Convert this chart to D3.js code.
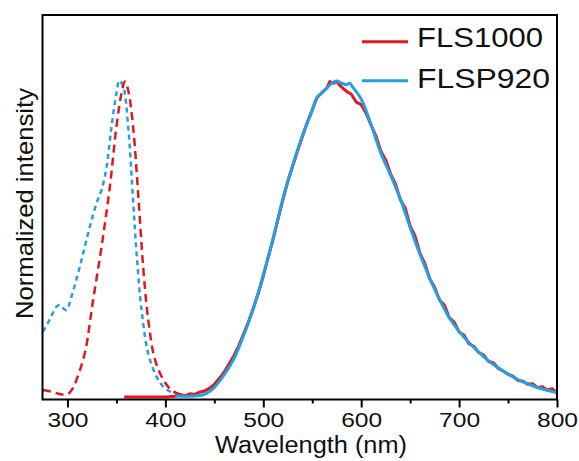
<!DOCTYPE html>
<html>
<head>
<meta charset="utf-8">
<script src="https://cdn.jsdelivr.net/npm/d3@7"></script>
<style>
  body { margin: 0; background: #fff; }
  text { font-family: "Liberation Sans", Arial, sans-serif; fill: #111; }
</style>
</head>
<body>
<svg id="chart" width="579" height="461"></svg>
<script>
"use strict";

const red = "#e3171e";
const blue = "#22a0e2";

const seriesNames = ["FLS1000", "FLSP920"];
const xTicks = [300, 400, 500, 600, 700, 800];
const xMinorTicks = [350, 450, 550, 650, 750];

// excitation (dashed)
const fls1000ExWl = [275, 282, 288.8, 295, 300.6, 305, 309.2, 317.7, 326.2, 334.8, 343.3, 350, 355.2, 358.6, 362, 367, 372.2, 377.3, 382.5, 389.4, 398, 405, 411.6, 420];
const fls1000Ex = [0.022, 0.018, 0.012, 0.008, 0.009, 0.025, 0.054, 0.138, 0.306, 0.474, 0.663, 0.853, 0.958, 0.995, 0.968, 0.853, 0.642, 0.411, 0.243, 0.117, 0.054, 0.025, 0.012, 0.004];

const flsp920ExWl = [275, 282, 288.8, 292, 295.5, 299, 304, 312.6, 322.8, 329.7, 335, 340, 345, 350, 353, 357, 362, 367, 370.6, 375.7, 382.5, 391, 398, 405, 415];
const flsp920Ex = [0.206, 0.245, 0.285, 0.290, 0.280, 0.274, 0.316, 0.411, 0.537, 0.611, 0.655, 0.726, 0.853, 0.958, 0.998, 0.979, 0.853, 0.621, 0.453, 0.274, 0.137, 0.064, 0.032, 0.017, 0.006];

// emission (solid)
const fls1000EmWl = [358, 380, 400, 410, 415, 420, 425, 430, 435, 440, 445, 450, 455, 460, 465, 470, 475, 480, 485, 490, 495, 500, 505, 510, 515, 520, 525, 530, 535, 540, 545, 550, 555, 560, 565, 568, 572, 575, 578, 582, 586, 590, 595, 600, 605, 610, 615, 620, 625, 630, 635, 640, 645, 650, 655, 660, 665, 670, 675, 680, 685, 690, 695, 700, 705, 710, 715, 720, 725, 730, 735, 740, 745, 750, 755, 760, 765, 770, 775, 780, 785, 790, 795, 800];
const fls1000Em = [0, 0, 0, 0.002, 0.008, 0.004, 0.010, 0.008, 0.015, 0.019, 0.027, 0.040, 0.058, 0.078, 0.104, 0.130, 0.162, 0.200, 0.238, 0.282, 0.328, 0.381, 0.440, 0.497, 0.560, 0.622, 0.680, 0.728, 0.776, 0.822, 0.866, 0.905, 0.945, 0.960, 0.975, 0.995, 0.990, 0.996, 0.984, 0.972, 0.962, 0.955, 0.930, 0.922, 0.895, 0.858, 0.824, 0.776, 0.748, 0.704, 0.672, 0.622, 0.596, 0.540, 0.508, 0.454, 0.421, 0.372, 0.346, 0.306, 0.290, 0.250, 0.236, 0.205, 0.195, 0.168, 0.160, 0.140, 0.133, 0.112, 0.108, 0.090, 0.082, 0.072, 0.066, 0.052, 0.050, 0.040, 0.042, 0.030, 0.032, 0.022, 0.026, 0.012];

const flsp920EmWl = [410, 420, 430, 440, 450, 460, 470, 480, 490, 500, 510, 520, 530, 540, 550, 555, 560, 565, 570, 575, 580, 585, 588, 592, 600, 610, 620, 630, 640, 650, 660, 670, 680, 690, 700, 710, 720, 730, 740, 750, 760, 770, 780, 790, 800];
const flsp920Em = [0.003, 0.002, 0.003, 0.008, 0.030, 0.070, 0.120, 0.195, 0.280, 0.385, 0.500, 0.625, 0.730, 0.825, 0.905, 0.945, 0.960, 0.975, 0.990, 0.997, 0.990, 0.985, 0.990, 0.975, 0.940, 0.860, 0.770, 0.700, 0.625, 0.535, 0.450, 0.375, 0.308, 0.250, 0.207, 0.172, 0.142, 0.114, 0.092, 0.072, 0.055, 0.042, 0.030, 0.021, 0.014];

const svg = d3.select("#chart");
const plotLeft = 42.5, plotRight = 557, plotTop = 15, plotBottom = 399.5;

const x = d3.scaleLinear().domain([274.5, 800]).range([plotLeft, plotRight]);
const y = d3.scaleLinear().domain([-0.008, 1.205]).range([plotBottom, plotTop]);

const zip = (xs, ys) => xs.map((v, i) => [v, ys[i]]);

const line = d3.line()
    .x(d => x(d[0]))
    .y(d => y(d[1]));
const smooth = d3.line()
    .x(d => x(d[0]))
    .y(d => y(d[1]))
    .curve(d3.curveCatmullRom);

const plot = svg.append("g");

plot.append("path")
    .attr("d", smooth(zip(flsp920ExWl, flsp920Ex)))
    .attr("fill", "none").attr("stroke", blue)
    .attr("stroke-width", 2.5).attr("stroke-dasharray", "5,4");
plot.append("path")
    .attr("d", smooth(zip(fls1000ExWl, fls1000Ex)))
    .attr("fill", "none").attr("stroke", red)
    .attr("stroke-width", 2.5).attr("stroke-dasharray", "8,5");

plot.append("path")
    .attr("d", line(zip(fls1000EmWl, fls1000Em)))
    .attr("fill", "none").attr("stroke", red)
    .attr("stroke-width", 3).attr("stroke-linejoin", "round");
plot.append("path")
    .attr("d", smooth(zip(flsp920EmWl, flsp920Em)))
    .attr("fill", "none").attr("stroke", blue)
    .attr("stroke-width", 3).attr("stroke-linejoin", "round");

// frame
svg.append("rect")
    .attr("x", plotLeft).attr("y", plotTop)
    .attr("width", plotRight - plotLeft).attr("height", plotBottom - plotTop)
    .attr("fill", "none").attr("stroke", "#000").attr("stroke-width", 2);

// x axis
const xAxis = svg.append("g")
    .attr("transform", `translate(0,${plotBottom})`)
    .call(d3.axisBottom(x).tickValues(xTicks).tickSize(8).tickPadding(5));
xAxis.select(".domain").remove();
xAxis.selectAll(".tick line").attr("stroke", "#000").attr("stroke-width", 2);
xAxis.selectAll(".tick text")
    .style("font-size", "20px")
    .style("font-family", "Liberation Sans, Arial, sans-serif")
    .attr("fill", "#111")
    .attr("textLength", 41)
    .attr("lengthAdjust", "spacingAndGlyphs")
    .attr("x", -20.5)
    .attr("text-anchor", "start");

const xMinor = svg.append("g")
    .attr("transform", `translate(0,${plotBottom})`)
    .call(d3.axisBottom(x).tickValues(xMinorTicks).tickSize(4).tickFormat(""));
xMinor.select(".domain").remove();
xMinor.selectAll(".tick line").attr("stroke", "#000").attr("stroke-width", 2);

svg.append("text")
    .attr("x", 215).attr("y", 453)
    .attr("textLength", 192)
    .attr("lengthAdjust", "spacingAndGlyphs")
    .style("font-size", "23px")
    .text("Wavelength (nm)");

svg.append("text")
    .attr("transform", "translate(33,319) rotate(-90)")
    .attr("textLength", 231)
    .attr("lengthAdjust", "spacingAndGlyphs")
    .style("font-size", "24px")
    .text("Normalized intensity");

// legend
const legendColors = [red, blue];
const legendLineY = [41.7, 80.7];
const legendTextY = [47, 88];
const legend = svg.append("g");
seriesNames.forEach((name, i) => {
  legend.append("line")
      .attr("x1", 362).attr("x2", 408)
      .attr("y1", legendLineY[i]).attr("y2", legendLineY[i])
      .attr("stroke", legendColors[i]).attr("stroke-width", 3);
  legend.append("text")
      .attr("x", 417).attr("y", legendTextY[i])
      .attr("textLength", i === 0 ? 126 : 133)
      .attr("lengthAdjust", "spacingAndGlyphs")
      .style("font-size", "28px")
      .text(name);
});
</script>
</body>
</html>
